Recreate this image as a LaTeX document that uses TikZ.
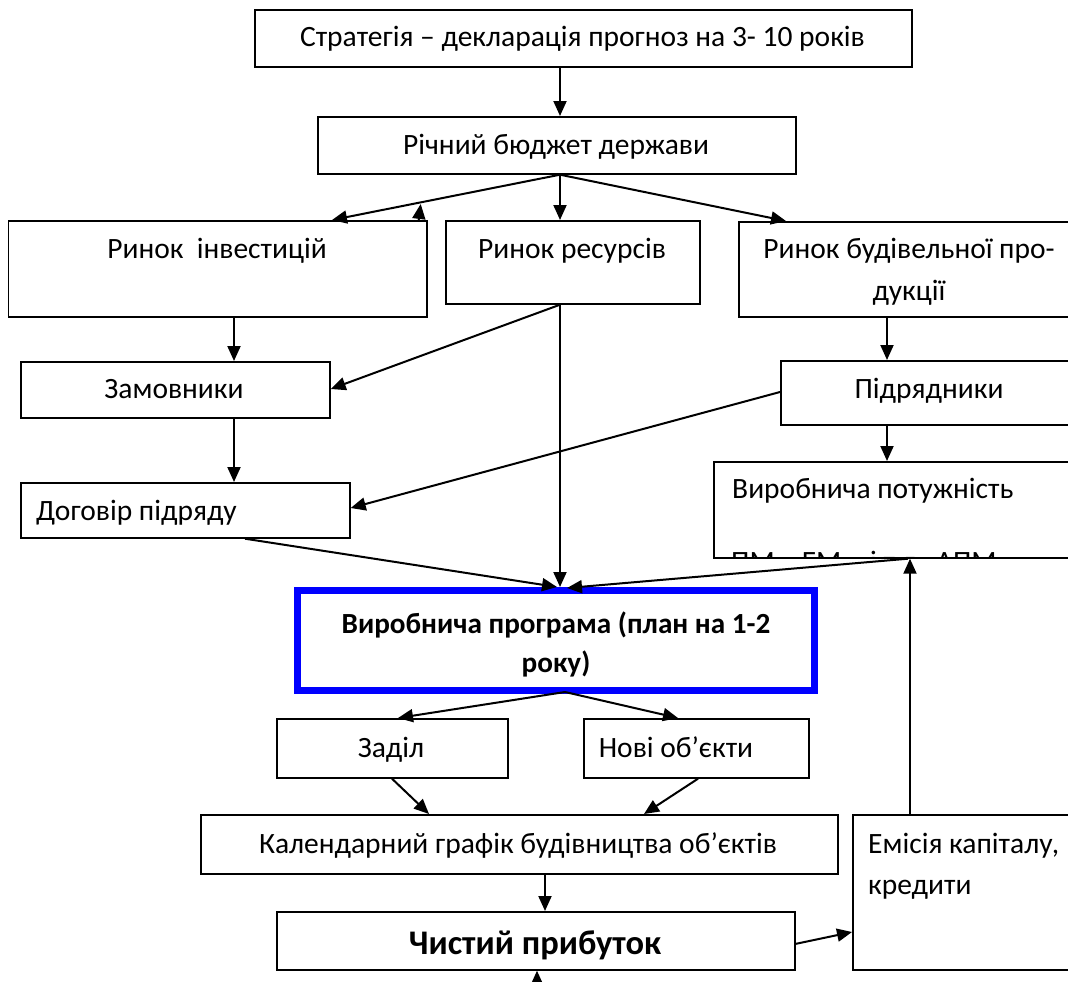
\documentclass[tikz,border=0pt]{standalone}
\usepackage{fontspec}
\setmainfont{Carlito}
\usetikzlibrary{arrows.meta,calc}
\begin{document}
\begin{tikzpicture}[x=1pt,y=-1pt,
  box/.style={draw, line width=1.7pt, inner sep=0pt, anchor=north west},
  txt/.style={inner sep=0pt, anchor=base, font=\fontsize{29.5}{32}\selectfont},
  ltxt/.style={txt, anchor=base west},
  btxt/.style={txt, font=\fontsize{29.2}{32}\selectfont\bfseries},
  arr/.style={line width=2pt, -{Triangle[length=15pt,width=13pt]}},
]
\useasboundingbox (0,0) rectangle (1068,982);
\fill[white] (0,0) rectangle (1068,982);
\clip (0,0) rectangle (1068,982);

% boxes
\node[box, minimum width=657pt, minimum height=57pt] (s1) at (254,9) {};
\node[box, minimum width=478pt, minimum height=57pt] (b) at (317,116) {};
\node[box, minimum width=418.5pt, minimum height=96pt] (ri) at (7.5,220) {};
\node[box, minimum width=254pt, minimum height=83pt] (rr) at (445,220) {};
\node[box, minimum width=380pt, minimum height=95pt] (rb) at (738,221) {};
\node[box, minimum width=309pt, minimum height=56pt] (z) at (20,361) {};
\node[box, minimum width=340pt, minimum height=64pt] (p) at (780,360) {};
\node[box, minimum width=329pt, minimum height=55pt] (d) at (20,482) {};
\begin{scope}
  \clip (713,461) rectangle (1068,556);
  \node[ltxt] (vt2) at (731,571.5) {ПМ,\hspace{13pt} ЕМ\hspace{22pt} і т.д.\hspace{2pt} АПМ};
\end{scope}
\node[box, minimum width=400pt, minimum height=96pt] (v) at (713,461) {};
\node[draw=blue, line width=7pt, inner sep=0pt, minimum width=517pt, minimum height=100pt] (vp) at (556,640.5) {};
\node[box, minimum width=231pt, minimum height=59pt] (zd) at (276,718) {};
\node[box, minimum width=225pt, minimum height=59pt] (nv) at (583,718) {};
\node[box, minimum width=637pt, minimum height=59pt] (cal) at (200,814) {};
\node[box, minimum width=260pt, minimum height=155pt] (em) at (852,814) {};
\node[box, minimum width=518pt, minimum height=58pt] (ch) at (276,911) {};

% texts
\node[txt] (ts1) at (582.5,47) {Стратегія – декларація прогноз на 3- 10 років};
\node[txt] (tb) at (556,154) {Річний бюджет держави};
\node[txt] (tri) at (217,258) {Ринок\ \ інвестицій};
\node[txt] (trr) at (572,258) {Ринок ресурсів};
\node[txt] (trb1) at (909,258) {Ринок будівельної про-};
\node[txt] (trb2) at (909,300) {дукції};
\node[txt] (tz) at (174,398.5) {Замовники};
\node[txt] (tp) at (929,398) {Підрядники};
\node[ltxt] (tv1) at (732,498) {Виробнича потужність};
\node[ltxt] (td) at (36,520) {Договір підряду};
\node[btxt] (tvp1) at (556,633) {Виробнича програма (план на 1-2};
\node[btxt] (tvp2) at (556,672) {року)};
\node[txt] (tzd) at (391,757) {Заділ};
\node[txt] (tnv) at (676,757) {Нові об’єкти};
\node[txt] (tcal) at (518,853) {Календарний графік будівництва об’єктів};
\node[ltxt] (tem1) at (868,853) {Емісія капіталу,};
\node[ltxt] (tem2) at (868,894) {кредити};
\node[txt, font=\fontsize{34.5}{36}\selectfont\bfseries] (tch) at (535,954) {Чистий прибуток};

% connectors
\coordinate (bo) at ($(b.south west)+(243,0)$);
\draw[arr] ($(s1.south west)+(306,0)$) -- ($(b.north west)+(243,0)$);
\draw[arr] (bo) -- ($(ri.north west)+(324.5,0)$);
\draw[arr] ($(ri.north east)+(-9,0)$) -- ++(2,-16);
\draw[arr] (bo) -- (bo |- rr.north);
\draw[arr] (bo) -- ($(rb.north west)+(48,0)$);
\coordinate (rio) at ($(ri.south west)+(226.5,0)$);
\draw[arr] (rio) -- (rio |- z.north);
\coordinate (rro) at ($(rr.south west)+(115,0)$);
\draw[arr] (rro) -- ($(z.north east)+(0,28)$);
\draw[arr] (rro) -- ($(vp.north)+(4,0)$);
\coordinate (rbo) at ($(rb.south west)+(149,0)$);
\draw[arr] (rbo) -- (rbo |- p.north);
\coordinate (zo) at ($(z.south west)+(214,0)$);
\draw[arr] (zo) -- (zo |- d.north);
\draw[arr] ($(p.north west)+(0,32)$) -- ($(d.north east)+(0,26)$);
\coordinate (po) at ($(p.south west)+(107,0)$);
\draw[arr] (po) -- (po |- v.north);
\draw[arr] ($(d.south west)+(225,0)$) -- ($(vp.north)+(1,0)$);
\draw[arr] ($(v.south west)+(195,0)$) -- ($(vp.north)+(11,1)$);
\coordinate (emo) at ($(em.north west)+(58,0)$);
\draw[arr] (emo) -- (emo |- v.south);
\coordinate (vpo) at ($(vp.south)+(9,-2)$);
\draw[arr] (vpo) -- ($(zd.north west)+(122,0)$);
\draw[arr] (vpo) -- ($(nv.north west)+(95,0)$);
\draw[arr] ($(zd.south west)+(116,0)$) -- ($(cal.north west)+(229,0)$);
\draw[arr] ($(nv.south west)+(115,0)$) -- ($(cal.north west)+(444,0)$);
\coordinate (calo) at ($(cal.south west)+(345,0)$);
\draw[arr] (calo) -- (calo |- ch.north);
\draw[arr] ($(ch.east)+(0,3)$) -- ($(em.north west)+(0,118)$);
\coordinate (bt) at (537,1000);
\draw[arr] (bt) -- (bt |- ch.south);
\end{tikzpicture}
\end{document}
